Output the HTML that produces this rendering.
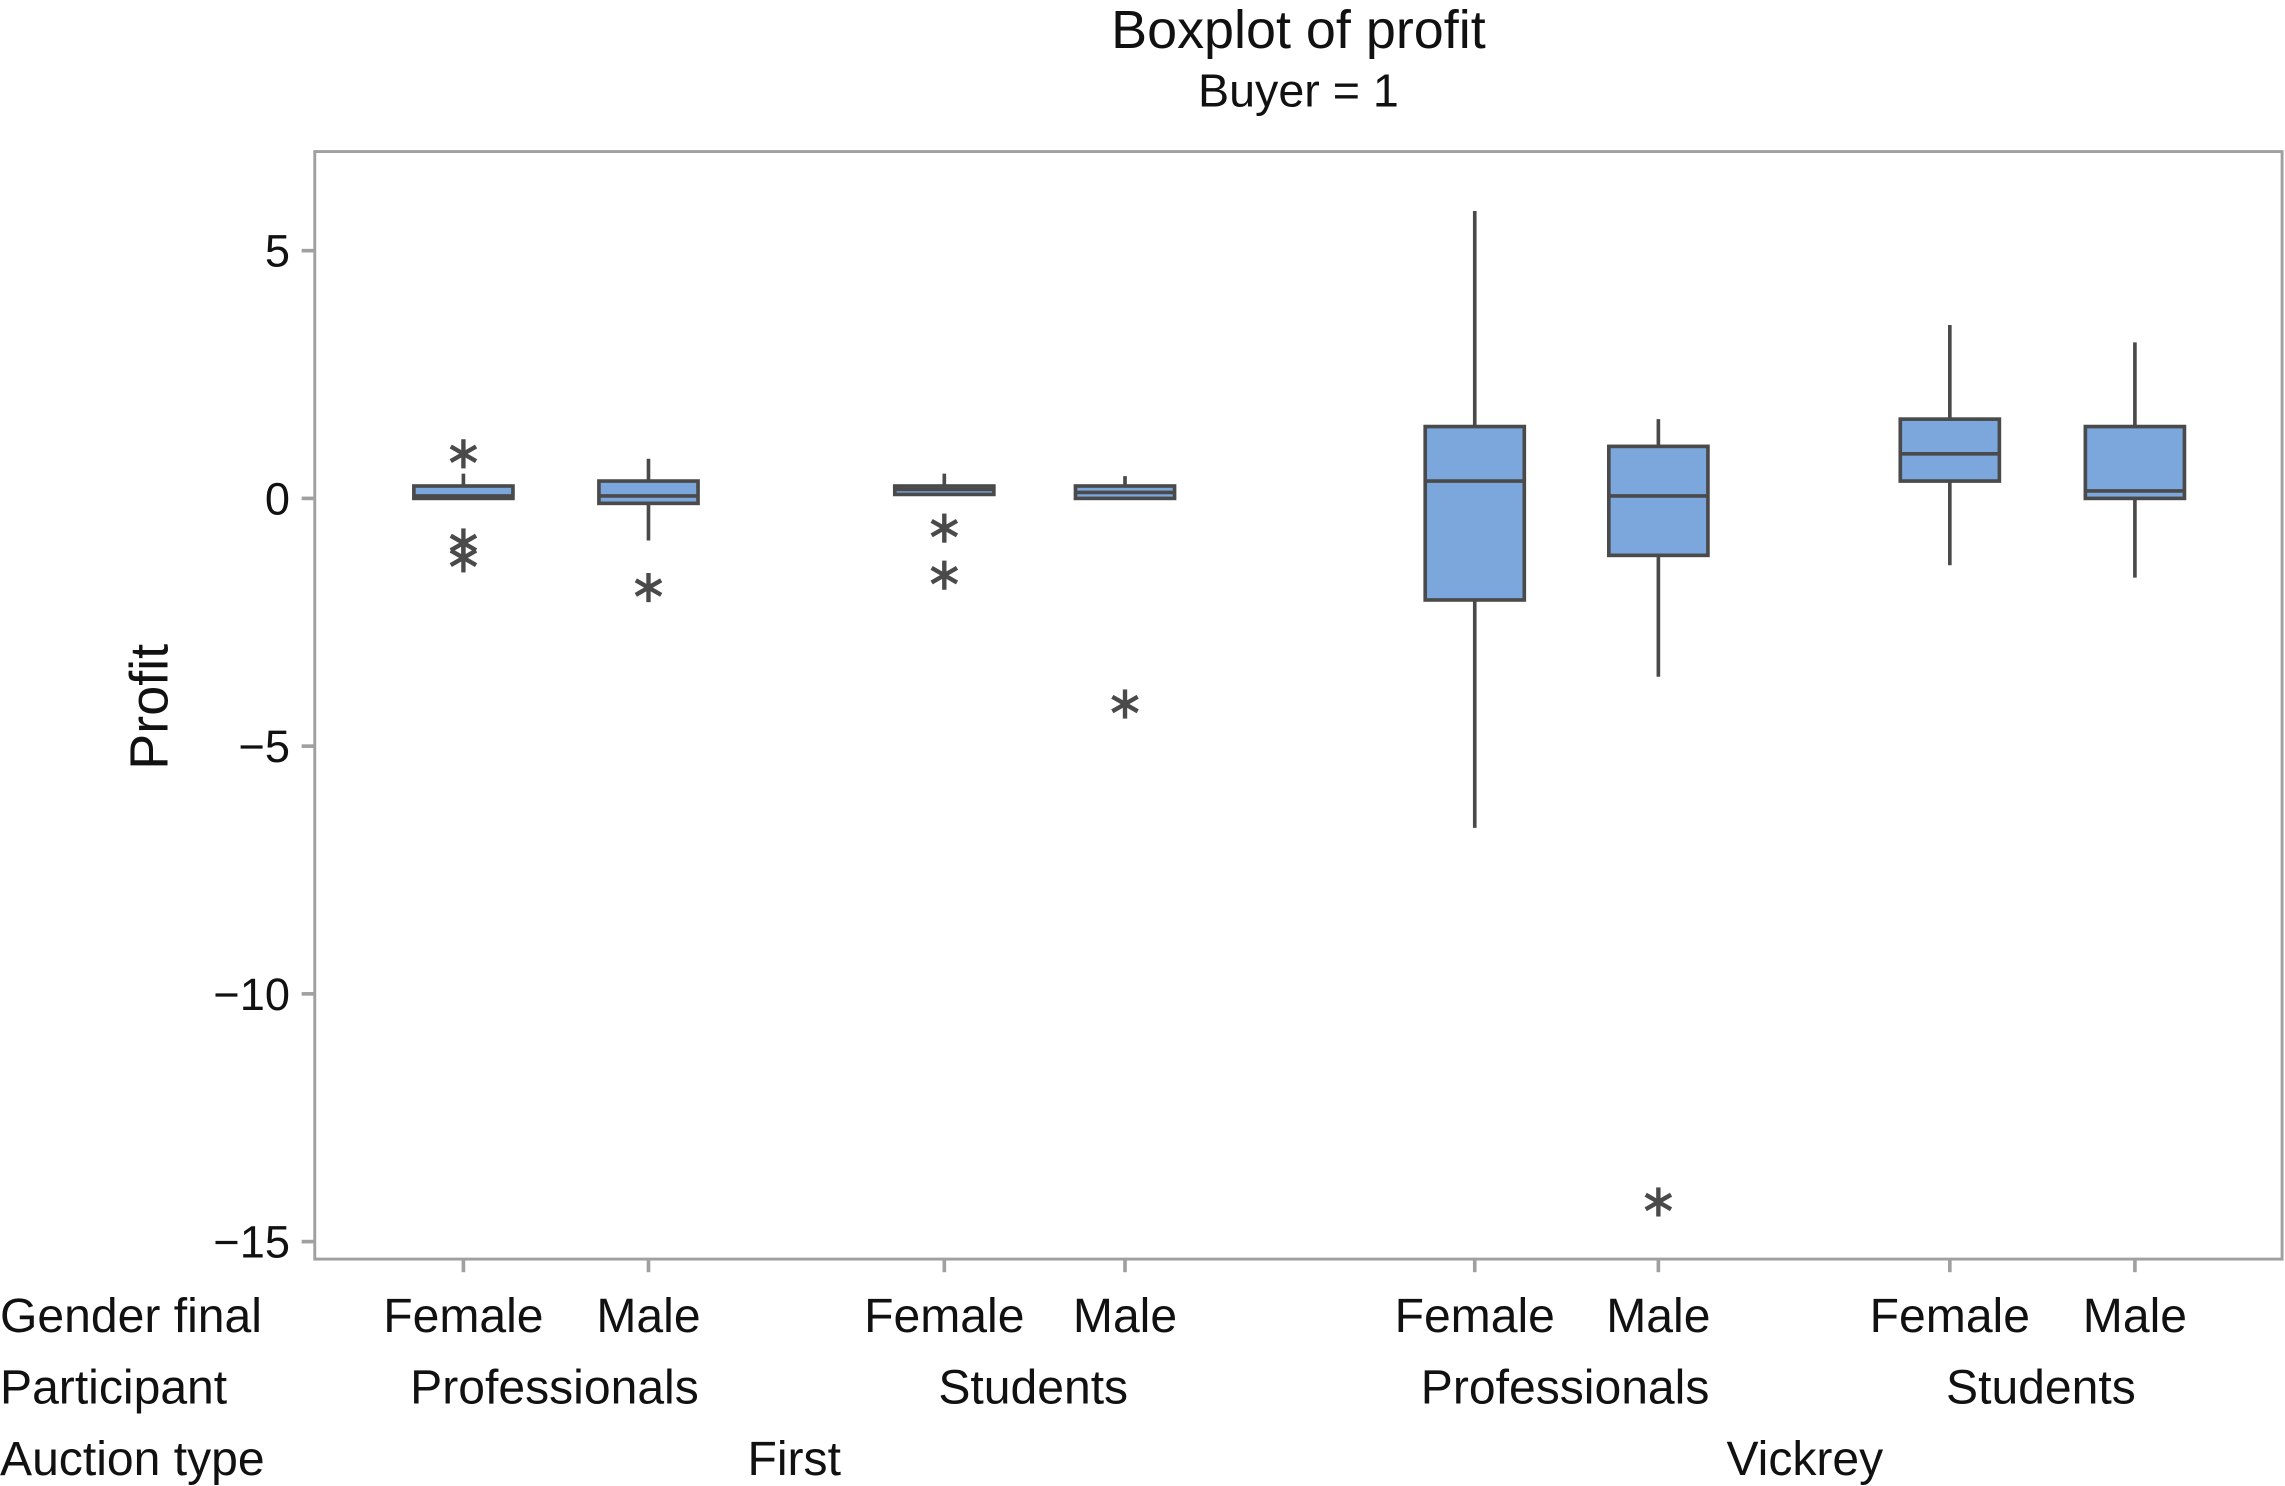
<!DOCTYPE html>
<html><head><meta charset="utf-8"><style>
html,body{margin:0;padding:0;background:#fff;}
svg{display:block;font-family:"Liberation Sans",Arial,sans-serif;}
</style></head><body>
<svg id="chart" width="2285" height="1486" viewBox="0 0 1568 1019.7" xmlns="http://www.w3.org/2000/svg">
<text x="891" y="33" font-size="37" text-anchor="middle" fill="#111">Boxplot of profit</text>
<text x="891" y="73" font-size="32" text-anchor="middle" fill="#111">Buyer = 1</text>
<rect x="216" y="104" width="1350" height="760" fill="none" stroke="#a0a0a0" stroke-width="2"/>
<text transform="translate(115,485) rotate(-90)" font-size="37" text-anchor="middle" fill="#111">Profit</text>
<g id="yaxis"></g>
<g id="marks"></g>
<g id="xlabels"></g>
</svg>
<script>
const categories = ["First|Professionals|Female","First|Professionals|Male","First|Students|Female","First|Students|Male","Vickrey|Professionals|Female","Vickrey|Professionals|Male","Vickrey|Students|Female","Vickrey|Students|Male"];
const genders = ["Female","Male","Female","Male","Female","Male","Female","Male"];
const participants = ["Professionals","Students","Professionals","Students"];
const auctionTypes = ["First","Vickrey"];
const q1 = [0, -0.1, 0.08, 0, -2.05, -1.15, 0.35, 0];
const q3 = [0.25, 0.35, 0.25, 0.25, 1.45, 1.05, 1.6, 1.45];
const medians = [0.05, 0.05, 0.18, 0.12, 0.35, 0.05, 0.9, 0.15];
const whiskerLow = [0, -0.85, 0.08, 0, -6.65, -3.6, -1.35, -1.6];
const whiskerHigh = [0.5, 0.8, 0.5, 0.45, 5.8, 1.6, 3.5, 3.15];
const outliers = [[0.9,-0.9,-1.2],[-1.8],[-0.6,-1.55],[-4.15],[],[-14.2],[],[]];
const yTicks = [5, 0, -5, -10, -15];
const yTickLabels = ["5","0","\u22125","\u221210","\u221215"];

const NS="http://www.w3.org/2000/svg";
const xCenters=[318,445,648,772,1012,1138,1338,1465];
function y(v){return 342-34*v;}
function xPos(i){return xCenters[i];}
function mk(tag,attrs,parent){const e=document.createElementNS(NS,tag);for(const k in attrs)e.setAttribute(k,attrs[k]);parent.appendChild(e);return e;}
const ya=document.getElementById('yaxis');
yTicks.forEach((t,i)=>{
  const l=mk('line',{x1:207,x2:216,y1:y(t),y2:y(t),stroke:'#a0a0a0','stroke-width':2.5},ya);
  
  
  const tx=mk('text',{x:199,y:y(t)+11,'font-size':31,'text-anchor':'end',fill:'#111'},ya);
  tx.textContent=yTickLabels[i];
  
  
});
const mg=document.getElementById('marks');
const col='#4a4a4a';
categories.forEach((c,i)=>{
  const x=xPos(i),w=34;
  const g=mk('g',{},mg);
  
  
  mk('line',{x1:x,x2:x,y1:y(whiskerHigh[i]),y2:y(q3[i]),stroke:col,'stroke-width':2.5},g);
  mk('line',{x1:x,x2:x,y1:y(q1[i]),y2:y(whiskerLow[i]),stroke:col,'stroke-width':2.5},g);
  mk('rect',{x:x-w,y:y(q3[i]),width:2*w,height:Math.max(y(q1[i])-y(q3[i]),1),fill:'#7ba7dc',stroke:col,'stroke-width':2.5},g);
  mk('line',{x1:x-w,x2:x+w,y1:y(medians[i]),y2:y(medians[i]),stroke:col,'stroke-width':2.5},g);
  outliers[i].forEach(o=>{
    const oy=y(o),r=10;
    const og=mk('g',{stroke:col,'stroke-width':3},g);
    
    
    mk('line',{x1:x,x2:x,y1:oy-r,y2:oy+r},og);
    mk('line',{x1:x-8.7,x2:x+8.7,y1:oy-5,y2:oy+5},og);
    mk('line',{x1:x-8.7,x2:x+8.7,y1:oy+5,y2:oy-5},og);
  });
  mk('line',{x1:x,x2:x,y1:864,y2:873,stroke:'#a0a0a0','stroke-width':2.5},g);
});
const xl=document.getElementById('xlabels');
function lab(txt,x,yy,anchor,name){const t=mk('text',{x:x,y:yy,'font-size':33,'text-anchor':anchor,fill:'#111'},xl);t.textContent=txt;}
lab('Gender final',0,914,'start','gender-row-label');
lab('Participant',0,963,'start','participant-row-label');
lab('Auction type',0,1012,'start','auction-row-label');
genders.forEach((g,i)=>lab(g,xPos(i),914,'middle','gender-label'));
participants.forEach((p,j)=>lab(p,(xPos(2*j)+xPos(2*j+1))/2-1,963,'middle','participant-label'));
auctionTypes.forEach((a,k)=>lab(a,(xPos(4*k)+xPos(4*k+3))/2,1012,'middle','auction-type-label'));
</script>
</body></html>
